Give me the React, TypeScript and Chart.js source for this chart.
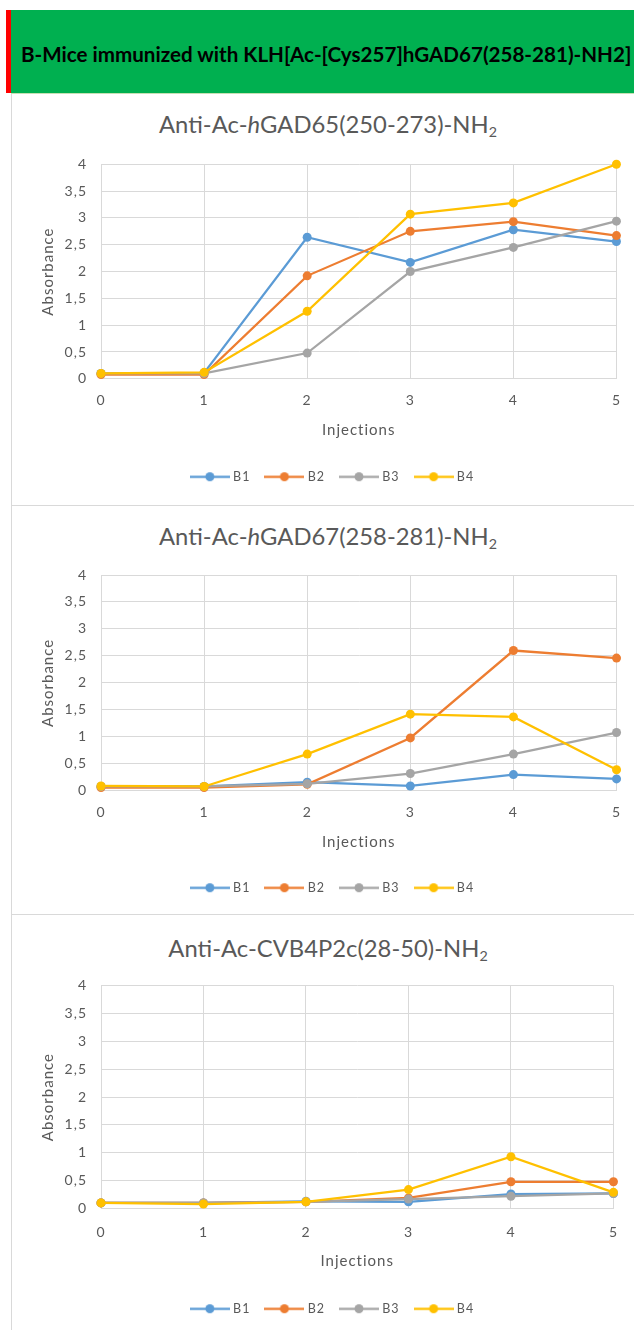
import React, { useEffect, useRef } from "react";
import { Chart, registerables } from "chart.js";

Chart.register(...registerables);

// ---------- data ----------
const injections = ["0", "1", "2", "3", "4", "5"];
const seriesNames = ["B1", "B2", "B3", "B4"];
const seriesColors = ["#5B9BD5", "#ED7D31", "#A5A5A5", "#FFC000"];

const headerText = "B-Mice immunized with KLH[Ac-[Cys257]hGAD67(258-281)-NH2]";

// Chart 1: Anti-Ac-hGAD65(250-273)-NH2
const gad65B1 = [0.1, 0.11, 2.64, 2.17, 2.78, 2.56];
const gad65B2 = [0.08, 0.08, 1.92, 2.75, 2.93, 2.67];
const gad65B3 = [0.1, 0.1, 0.48, 2.0, 2.45, 2.94];
const gad65B4 = [0.1, 0.12, 1.26, 3.07, 3.28, 4.0];

// Chart 2: Anti-Ac-hGAD67(258-281)-NH2
const gad67B1 = [0.08, 0.08, 0.16, 0.09, 0.3, 0.22];
const gad67B2 = [0.06, 0.06, 0.12, 0.98, 2.6, 2.46];
const gad67B3 = [0.08, 0.08, 0.13, 0.32, 0.68, 1.08];
const gad67B4 = [0.09, 0.08, 0.68, 1.42, 1.37, 0.39];

// Chart 3: Anti-Ac-CVB4P2c(28-50)-NH2
const cvbB1 = [0.1, 0.1, 0.13, 0.12, 0.26, 0.27];
const cvbB2 = [0.1, 0.1, 0.12, 0.19, 0.48, 0.48];
const cvbB3 = [0.1, 0.1, 0.12, 0.17, 0.22, 0.27];
const cvbB4 = [0.1, 0.08, 0.12, 0.34, 0.93, 0.29];

const yMin = 0;
const yMax = 4;
const yStep = 0.5;
const xTitle = "Injections";
const yTitle = "Absorbance";

// ---------- helpers ----------
const FONT = "Lato";
const TEXT = "#595959";
const GRID = "#d9d9d9";

function legendImage(color: string) {
  const c = document.createElement("canvas");
  c.width = 40;
  c.height = 11;
  const ctx = c.getContext("2d")!;
  ctx.strokeStyle = color;
  ctx.lineWidth = 2.25;
  ctx.beginPath();
  ctx.moveTo(0, 5.5);
  ctx.lineTo(40, 5.5);
  ctx.stroke();
  ctx.fillStyle = color;
  ctx.beginPath();
  ctx.arc(20, 5.5, 4.5, 0, Math.PI * 2);
  ctx.fill();
  return c;
}

const spacingPlugin = {
  id: "excelSpacing",
  beforeLayout(chart: any) {
    chart.ctx.letterSpacing = "1px";
  },
  beforeDraw(chart: any) {
    chart.ctx.letterSpacing = "1px";
  },
};

type Layout = {
  padTop: number;
  padBottom: number;
  xTickPad: number;
  xHeight: number;
  xTitlePad: number;
};

function LineChart({ height, series, layout }: { height: number; series: number[][]; layout: Layout }) {
  const ref = useRef<HTMLCanvasElement | null>(null);
  useEffect(() => {
    if (!ref.current) return;
    const images = seriesColors.map(legendImage);
    const chart = new Chart(ref.current, {
      type: "line",
      data: {
        labels: injections,
        datasets: series.map((d, i) => ({
          label: seriesNames[i],
          data: d,
          borderColor: seriesColors[i],
          backgroundColor: seriesColors[i],
          pointBackgroundColor: seriesColors[i],
          pointBorderColor: seriesColors[i],
          pointBorderWidth: 0,
          pointRadius: 4.5,
          pointHoverRadius: 4.5,
          borderWidth: 2.25,
          tension: 0,
          clip: false as any,
          order: series.length - i,
        })),
      },
      plugins: [spacingPlugin],
      options: {
        animation: false,
        responsive: false,
        maintainAspectRatio: false,
        devicePixelRatio: 1,
        events: [],
        layout: {
          padding: { top: layout.padTop, left: 38, right: 16, bottom: layout.padBottom },
        },
        plugins: {
          title: { display: false },
          tooltip: { enabled: false },
          legend: {
            display: true,
            position: "bottom",
            align: "center",
            labels: {
              usePointStyle: true,
              pointStyleWidth: 34,
              padding: 17,
              color: TEXT,
              font: { family: FONT, size: 12.5 },
              sort: (a: any, b: any) => a.datasetIndex - b.datasetIndex,
              generateLabels: (ch: any) => {
                const base = Chart.defaults.plugins.legend.labels.generateLabels(ch);
                return base.map((it: any) => ({
                  ...it,
                  pointStyle: images[it.datasetIndex],
                  fontColor: TEXT,
                }));
              },
            },
          },
        },
        scales: {
          x: {
            type: "category",
            offset: false,
            grid: { color: GRID, drawTicks: false, lineWidth: 1 },
            border: { color: GRID, width: 1 },
            ticks: {
              color: TEXT,
              font: { family: FONT, size: 14 },
              padding: layout.xTickPad,
              autoSkip: false,
              maxRotation: 0,
            },
            title: {
              display: true,
              text: xTitle,
              color: TEXT,
              font: { family: FONT, size: 15 },
              padding: { top: 0, bottom: layout.xTitlePad },
            },
            afterFit: (s: any) => {
              s.height = layout.xHeight;
            },
          },
          y: {
            min: yMin,
            max: yMax,
            grid: { color: GRID, drawTicks: false, lineWidth: 1 },
            border: { color: GRID, width: 1 },
            ticks: {
              stepSize: yStep,
              color: TEXT,
              font: { family: FONT, size: 14 },
              padding: 14,
              callback: (v: any) => String(v).replace(".", ","),
            },
            title: {
              display: true,
              text: yTitle,
              color: TEXT,
              font: { family: FONT, size: 15 },
              padding: { top: -10, bottom: 0 },
            },
            afterFit: (s: any) => {
              s.width = 52;
            },
          },
        },
      } as any,
    });
    return () => chart.destroy();
  }, [series, layout, height]);
  return <canvas ref={ref} width={623} height={height} style={{ display: "block", width: 623, height }} />;
}

function Panel({
  top,
  height,
  titleTop,
  title,
  series,
  layout,
}: {
  top: number;
  height: number;
  titleTop: number;
  title: React.ReactNode;
  series: number[][];
  layout: Layout;
}) {
  return (
    <>
      <div
        style={{
          position: "absolute",
          left: 328,
          top: titleTop,
          transform: "translateX(-50%)",
          whiteSpace: "nowrap",
          fontFamily: FONT,
          fontSize: 23.8,
          lineHeight: 1.2,
          color: TEXT,
        }}
      >
        {title}
      </div>
      <div style={{ position: "absolute", left: 11, top, width: 623, height }}>
        <LineChart height={height} series={series} layout={layout} />
      </div>
    </>
  );
}

const sub2 = <sub style={{ fontSize: "0.6em", verticalAlign: "-0.3em", lineHeight: 0 }}>2</sub>;

const layout1: Layout = { padTop: 71.3, padBottom: 12, xTickPad: 13, xHeight: 74.7, xTitlePad: 14.2 };
const layout2: Layout = { padTop: 69, padBottom: 10, xTickPad: 12.9, xHeight: 73.7, xTitlePad: 13.2 };
const layout3: Layout = { padTop: 70.7, padBottom: 5, xTickPad: 16, xHeight: 77, xTitlePad: 15.2 };

const series1 = [gad65B1, gad65B2, gad65B3, gad65B4];
const series2 = [gad67B1, gad67B2, gad67B3, gad67B4];
const series3 = [cvbB1, cvbB2, cvbB3, cvbB4];

export default function App() {
  return (
    <div
      style={{
        position: "absolute",
        left: 0,
        top: 0,
        width: 634,
        height: 1330,
        background: "#ffffff",
        overflow: "hidden",
      }}
    >
      {/* header band */}
      <div style={{ position: "absolute", left: 6, top: 10, width: 5, height: 83, background: "#FF0000" }} />
      <div style={{ position: "absolute", left: 11, top: 10, width: 623, height: 83, background: "#00B050" }} />
      <div style={{ position: "absolute", left: 11, top: 93, width: 623, height: 1, background: "#c6e0b4" }} />
      <div
        style={{
          position: "absolute",
          left: 21,
          top: 41.5,
          whiteSpace: "nowrap",
          fontFamily: FONT,
          fontWeight: 700,
          fontSize: 20.6,
          lineHeight: 1.2,
          color: "#000000",
        }}
      >
        {headerText}
      </div>
      {/* frame lines */}
      <div style={{ position: "absolute", left: 11, top: 94, width: 1, height: 1236, background: GRID }} />
      <div style={{ position: "absolute", left: 11, top: 505, width: 623, height: 1, background: GRID }} />
      <div style={{ position: "absolute", left: 11, top: 914, width: 623, height: 1, background: GRID }} />

      <Panel
        top={93}
        height={412}
        titleTop={109.5}
        title={
          <>
            Anti-Ac-<i>h</i>GAD65(250-273)-NH{sub2}
          </>
        }
        series={series1}
        layout={layout1}
      />
      <Panel
        top={506}
        height={408}
        titleTop={522}
        title={
          <>
            Anti-Ac-<i>h</i>GAD67(258-281)-NH{sub2}
          </>
        }
        series={series2}
        layout={layout2}
      />
      <Panel
        top={915}
        height={415}
        titleTop={933.5}
        title={<>Anti-Ac-CVB4P2c(28-50)-NH{sub2}</>}
        series={series3}
        layout={layout3}
      />
    </div>
  );
}
